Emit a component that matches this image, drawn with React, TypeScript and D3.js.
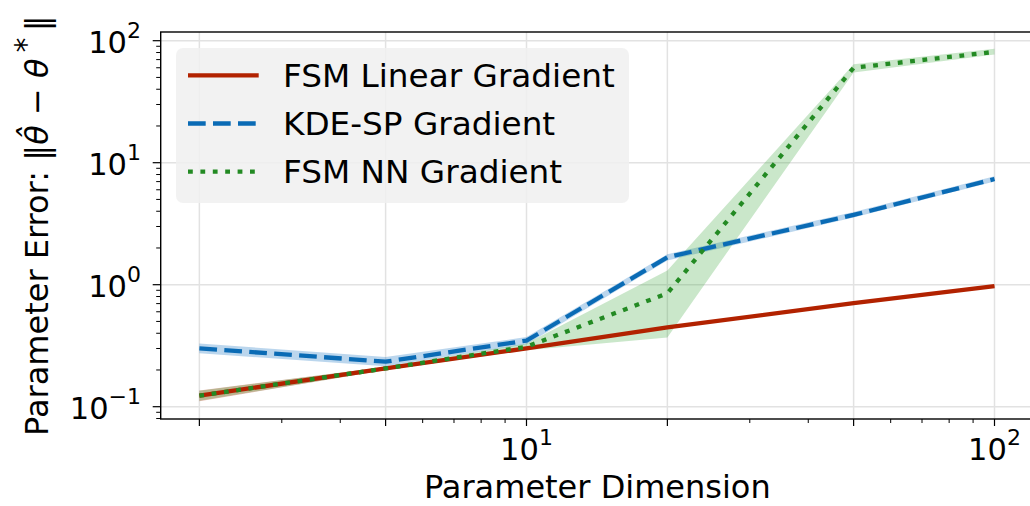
import React from "react";
import * as d3 from "d3";

// parameter dimension (x) and mean / band per method
const dims = [2, 5, 10, 20, 50, 100];

const linearMean = [0.123, 0.206, 0.301, 0.447, 0.705, 0.975];
const linearLow = [0.111, 0.2, 0.295, 0.44, 0.695, 0.96];
const linearHigh = [0.136, 0.212, 0.307, 0.455, 0.715, 0.99];

const kdeMean = [0.301, 0.234, 0.348, 1.68, 3.73, 7.35];
const kdeLow = [0.274, 0.215, 0.325, 1.58, 3.55, 7.0];
const kdeHigh = [0.33, 0.255, 0.372, 1.78, 3.95, 7.75];

const nnMean = [0.123, 0.206, 0.31, 0.85, 60, 81];
const nnLow = [0.112, 0.2, 0.29, 0.37, 55, 77];
const nnHigh = [0.135, 0.213, 0.33, 1.31, 64, 86];

const xMajorTicks = [2, 5, 10, 20, 50, 100];
const xLabelTicks = [10, 100];
const yMajorTicks = [0.1, 1, 10, 100];

const seriesNames = ["FSM Linear Gradient", "KDE-SP Gradient", "FSM NN Gradient"];

const W = 1030;
const H = 506;
const font = "DejaVu Sans";

const App = () => {
  const left = 160.7;
  const right = 1034;
  const top = 32;
  const bottom = 419;

  const x = d3
    .scaleLog()
    .domain([Math.pow(10, 0.2184), Math.pow(10, 2.0844)])
    .range([left, right]);
  const y = d3
    .scaleLog()
    .domain([Math.pow(10, -1.1008), Math.pow(10, 2.0713)])
    .range([bottom, top]);

  const series = [
    { name: seriesNames[0], mean: linearMean, lo: linearLow, hi: linearHigh, color: "#b22200", band: "#b22200", bandOpacity: 0.3, dash: "none" },
    { name: seriesNames[1], mean: kdeMean, lo: kdeLow, hi: kdeHigh, color: "#0a6bb5", band: "#1f77c4", bandOpacity: 0.3, dash: "17.7 7.3" },
    { name: seriesNames[2], mean: nnMean, lo: nnLow, hi: nnHigh, color: "#238a23", band: "#2ca02c", bandOpacity: 0.25, dash: "4.8 7.6" },
  ];

  const line = d3
    .line<number>()
    .x((_, i) => x(dims[i]))
    .y((d) => y(d));

  const area = (lo: number[], hi: number[]) =>
    d3
      .area<number>()
      .x((_, i) => x(dims[i]))
      .y0((_, i) => y(lo[i]))
      .y1((_, i) => y(hi[i]))(dims);

  const [x0, x1] = x.domain();
  const [y0, y1] = y.domain();
  const xMinor = x.ticks().filter((t) => t >= x0 && t <= x1 && !xMajorTicks.includes(t));
  const yMinor = y.ticks().filter((t) => t >= y0 && t <= y1 && !yMajorTicks.includes(t));

  const expo = (v: number) => {
    const e = Math.round(Math.log10(v));
    return e < 0 ? "\u2212" + Math.abs(e) : String(e);
  };

  const gridColor = "#e2e2e2";

  return (
    <svg
      width={W}
      height={H}
      style={{ position: "absolute", left: 0, top: 0, background: "white" }}
      fontFamily={font}
    >
      <defs>
        <clipPath id="plot">
          <rect x={left} y={top} width={right - left} height={bottom - top} />
        </clipPath>
      </defs>

      {/* grid */}
      {xMajorTicks.map((t) => (
        <line key={"gx" + t} x1={x(t)} x2={x(t)} y1={top} y2={bottom} stroke={gridColor} strokeWidth={1.5} />
      ))}
      {yMajorTicks.map((t) => (
        <line key={"gy" + t} x1={left} x2={right} y1={y(t)} y2={y(t)} stroke={gridColor} strokeWidth={1.5} />
      ))}

      {/* bands and lines */}
      <g clipPath="url(#plot)">
        {series.map((s) => (
          <path key={"b" + s.name} d={area(s.lo, s.hi) || ""} fill={s.band} fillOpacity={s.bandOpacity} stroke="none" />
        ))}
        {series.map((s) => (
          <path
            key={"l" + s.name}
            d={line(s.mean) || ""}
            fill="none"
            stroke={s.color}
            strokeWidth={4.3}
            strokeDasharray={s.dash}
            strokeLinejoin="round"
          />
        ))}
      </g>

      {/* spines */}
      <rect x={left} y={top} width={right - left} height={bottom - top} fill="none" stroke="#000" strokeWidth={1.4} />

      {/* x ticks */}
      {xMajorTicks.map((t) => (
        <line key={"xt" + t} x1={x(t)} x2={x(t)} y1={bottom} y2={bottom + 7} stroke="#000" strokeWidth={1.2} />
      ))}
      {xMinor.map((t) => (
        <line key={"xm" + t} x1={x(t)} x2={x(t)} y1={bottom} y2={bottom + 4} stroke="#000" strokeWidth={1} />
      ))}
      {xLabelTicks.map((t) => (
        <text key={"xl" + t} x={x(t)} y={460} textAnchor="middle" fontSize={30.5} fill="#000">
          10
          <tspan fontSize={22} dy={-15}>
            {expo(t)}
          </tspan>
        </text>
      ))}

      {/* y ticks */}
      {yMajorTicks.map((t) => (
        <line key={"yt" + t} x1={left - 8} x2={left} y1={y(t)} y2={y(t)} stroke="#000" strokeWidth={1.2} />
      ))}
      {yMinor.map((t) => (
        <line key={"ym" + t} x1={left - 4.5} x2={left} y1={y(t)} y2={y(t)} stroke="#000" strokeWidth={1} />
      ))}
      {yMajorTicks.map((t) => (
        <text key={"yl" + t} x={141} y={y(t) + 12.5} textAnchor="end" fontSize={30.5} fill="#000">
          10
          <tspan fontSize={22} dy={-15}>
            {expo(t)}
          </tspan>
        </text>
      ))}

      {/* axis labels */}
      <text x={(left + right) / 2} y={498} textAnchor="middle" fontSize={32} fill="#000">
        Parameter Dimension
      </text>
      <text transform={`translate(48, ${(top + bottom) / 2}) rotate(-90)`} textAnchor="middle" fontSize={32} fill="#000">
        Parameter Error: {"\u2016"}
        <tspan fontStyle="italic">{"\u03b8\u0302"}</tspan>
        {" \u2212 "}
        <tspan fontStyle="italic">{"\u03b8"}</tspan>
        <tspan fontSize={30} dy={-12}>
          {"\u2009*"}
        </tspan>
        <tspan dy={12}>{"\u2009\u2016"}</tspan>
      </text>

      {/* legend */}
      <rect x={176} y={48} width={453} height={155} rx={7} fill="#f0f0f0" fillOpacity={0.85} stroke="none" />
      {series.map((s, i) => {
        const ry = 75.3 + i * 48.2;
        return (
          <g key={"lg" + s.name}>
            <line x1={188} x2={258.7} y1={ry} y2={ry} stroke={s.color} strokeWidth={4.3} strokeDasharray={s.dash} />
            <text x={283} y={ry + 11.7} fontSize={32.7} fill="#000">
              {s.name}
            </text>
          </g>
        );
      })}
    </svg>
  );
};

export default App;
